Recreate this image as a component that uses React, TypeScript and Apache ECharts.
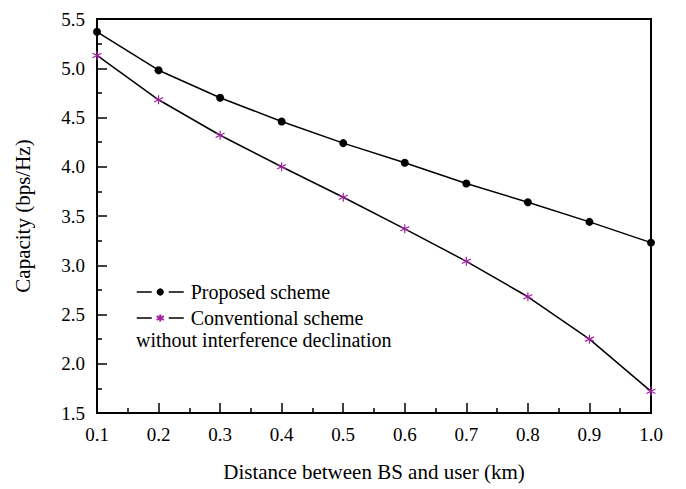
import React, { useEffect, useRef } from "react";
import * as echarts from "echarts";

const distances = [0.1, 0.2, 0.3, 0.4, 0.5, 0.6, 0.7, 0.8, 0.9, 1.0];
const proposed = [5.37, 4.98, 4.7, 4.46, 4.24, 4.04, 3.83, 3.64, 3.44, 3.23];
const conventional = [5.13, 4.68, 4.32, 4.0, 3.69, 3.37, 3.04, 2.68, 2.25, 1.72];
const seriesNames = ["Proposed scheme", "Conventional scheme"];
const legendExtra = "without interference declination";

const FONT = "Liberation Serif";
const ASTERISK = "path://M5,0L5,10M0.67,2.5L9.33,7.5M0.67,7.5L9.33,2.5";

export default function App() {
  const ref = useRef<HTMLDivElement>(null);
  useEffect(() => {
    if (!ref.current) return;
    const chart = echarts.init(ref.current, null, { renderer: "svg" });
    const axisCommon = {
      axisLine: { show: true, lineStyle: { color: "#000", width: 2 } },
      axisTick: { show: true, inside: true, length: 10, lineStyle: { color: "#000", width: 1.5 } },
      minorTick: { show: true, splitNumber: 2, length: 5, lineStyle: { color: "#000", width: 1.5 } },
      splitLine: { show: false },
      axisLabel: { color: "#000", fontFamily: FONT, fontSize: 19 },
      nameTextStyle: { color: "#000", fontFamily: FONT, fontSize: 21 },
    };
    chart.setOption({
      animation: false,
      backgroundColor: "#fff",
      grid: { left: 97, top: 19, right: 35, bottom: 76, show: false },
      xAxis: {
        type: "value",
        min: 0.1,
        max: 1.0,
        interval: 0.1,
        name: "Distance between BS and user (km)",
        nameLocation: "middle",
        nameGap: 48,
        ...axisCommon,
        axisLabel: { ...axisCommon.axisLabel, margin: 12, formatter: (v: number) => v.toFixed(1) },
      },
      yAxis: {
        type: "value",
        min: 1.5,
        max: 5.5,
        interval: 0.5,
        name: "Capacity (bps/Hz)",
        nameLocation: "middle",
        nameGap: 64,
        ...axisCommon,
        axisLabel: { ...axisCommon.axisLabel, margin: 12, formatter: (v: number) => v.toFixed(1) },
      },
      legend: {
        orient: "vertical",
        left: 136,
        top: 282,
        padding: 0,
        itemWidth: 47,
        itemHeight: 9,
        itemGap: 6,
        data: seriesNames,
        lineStyle: { type: [15, 17], width: 1.5, color: "#000" },
        textStyle: { color: "#000", fontFamily: FONT, fontSize: 20, padding: [0, 0, 0, 2] },
      },
      graphic: [
        {
          type: "text",
          left: 136,
          top: 330,
          style: { text: legendExtra, fill: "#000", fontFamily: FONT, fontSize: 20 },
        },
        {
          type: "rect",
          shape: { x: 97, y: 19, width: 554, height: 394 },
          style: { fill: "none", stroke: "#000", lineWidth: 2 },
          silent: true,
        },
      ],
      series: [
        {
          name: seriesNames[0],
          type: "line",
          data: distances.map((d, i) => [d, proposed[i]]),
          symbol: "circle",
          symbolSize: 8,
          lineStyle: { color: "#000", width: 1.5 },
          itemStyle: { color: "#000" },
        },
        {
          name: seriesNames[1],
          type: "line",
          data: distances.map((d, i) => [d, conventional[i]]),
          symbol: ASTERISK,
          symbolSize: 9,
          lineStyle: { color: "#000", width: 1.5 },
          itemStyle: { color: "#a020a0", borderColor: "#a020a0", borderWidth: 1.2 },
        },
      ],
    });
    return () => chart.dispose();
  }, []);
  return <div ref={ref} style={{ width: 686, height: 489, position: "absolute", left: 0, top: 0 }} />;
}
